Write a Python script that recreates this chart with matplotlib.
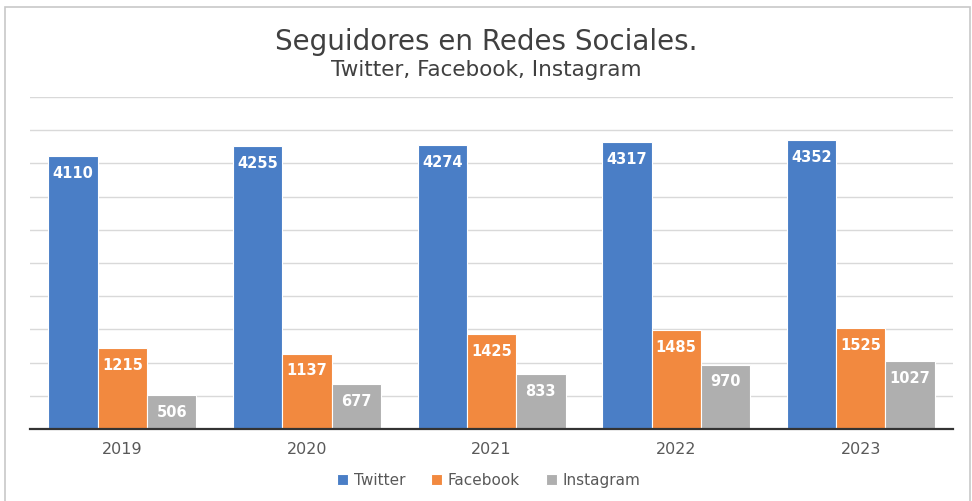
import numpy as np
import matplotlib.pyplot as plt
from matplotlib.patches import Rectangle

years = ["2019", "2020", "2021", "2022", "2023"]
twitter = [4110, 4255, 4274, 4317, 4352]
facebook = [1215, 1137, 1425, 1485, 1525]
instagram = [506, 677, 833, 970, 1027]

series = [("Twitter", twitter, "#4a7ec6"),
          ("Facebook", facebook, "#f2893f"),
          ("Instagram", instagram, "#afafaf")]

plt.rcParams['font.family'] = ['DejaVu Sans']

fig = plt.figure(figsize=(9.72, 5.01), dpi=100)
ax = fig.add_axes([0.031, 0.1437, 0.9495, 0.6627])

# marco exterior
fig.patches.append(Rectangle((0.005, -0.05), 0.993, 1.036, transform=fig.transFigure,
                             fill=False, edgecolor="#c8c8c8", linewidth=1.2))

x = np.arange(len(years))
w = 0.267
for i, (name, vals, col) in enumerate(series):
    bars = ax.bar(x + (i - 1) * w, vals, w, color=col, edgecolor="white",
                  linewidth=0.8, label=name, zorder=3)
    for b, v in zip(bars, vals):
        ax.annotate(str(v), (b.get_x() + b.get_width() / 2, v), xytext=(0, -12.5),
                    textcoords="offset points", ha="center", va="center",
                    color="white", fontweight="bold", fontsize=10.5, zorder=4)

ax.set_xlim(-0.5, len(years) - 0.5)
ax.set_ylim(0, 5000)
ax.set_yticks(np.arange(0, 5001, 500))
ax.yaxis.grid(True, color="#d9d9d9", linewidth=1, zorder=0)
ax.tick_params(axis="y", left=False, labelleft=False)
ax.tick_params(axis="x", bottom=False, labelsize=11.5, labelcolor="#595959", pad=6)
ax.set_xticks(x)
ax.set_xticklabels(years)
for s in ["top", "right", "left"]:
    ax.spines[s].set_visible(False)
ax.spines["bottom"].set_color("#333333")
ax.spines["bottom"].set_linewidth(1.6)
ax.spines["bottom"].set_zorder(5)

fig.text(0.5, 0.916, "Seguidores en Redes Sociales.", ha="center", va="center",
         fontsize=20, color="#404040")
fig.text(0.5, 0.860, "Twitter, Facebook, Instagram", ha="center", va="center",
         fontsize=15.5, color="#404040")

leg = ax.legend(loc="center", bbox_to_anchor=(0.497, -0.155), ncol=3, frameon=False,
                handlelength=0.7, handleheight=0.7, handletextpad=0.4,
                columnspacing=1.7, fontsize=11)
for t in leg.get_texts():
    t.set_color("#595959")

fig.savefig("out.png", dpi=100)
